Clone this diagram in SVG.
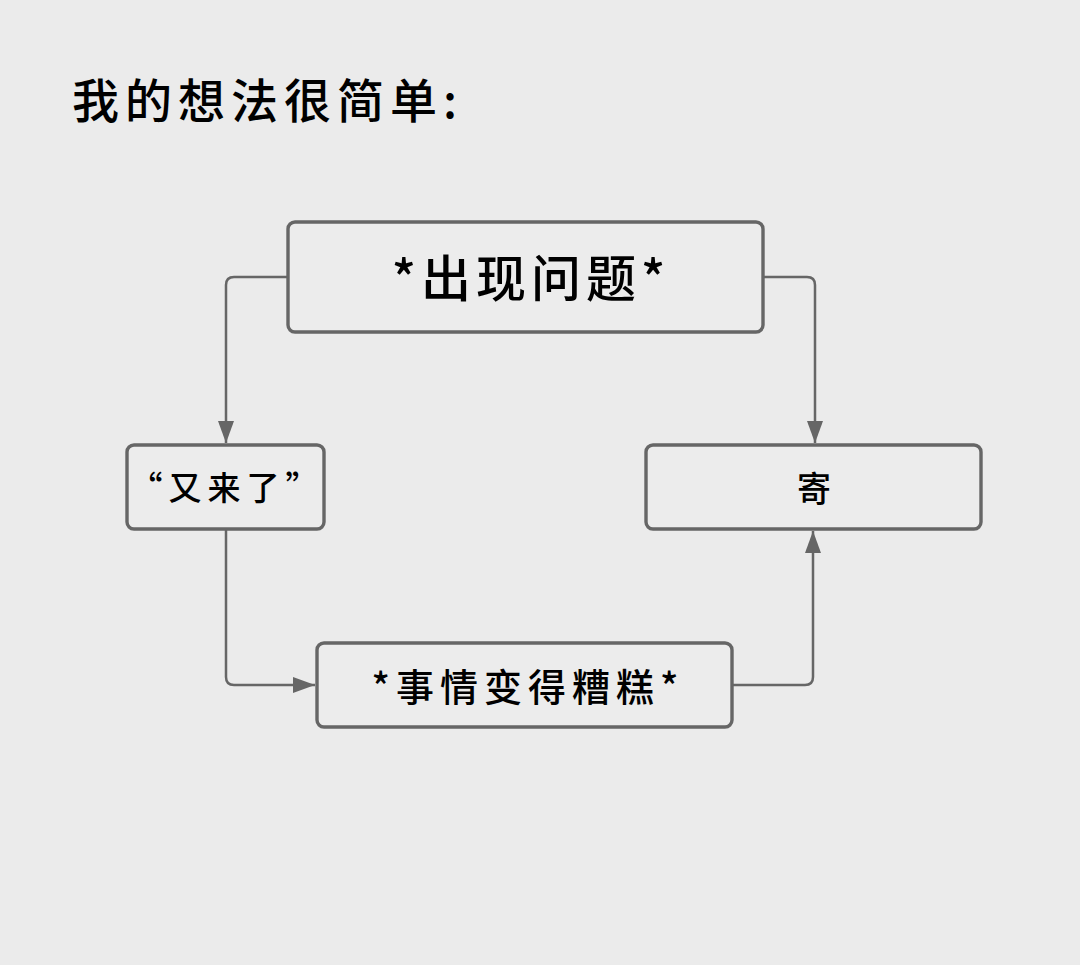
<svg xmlns="http://www.w3.org/2000/svg" width="1080" height="965" viewBox="0 0 1080 965">
<style>
.bg{fill:#ebebeb}
.box{fill:#ececec;stroke:#666;stroke-width:3.4}
.t{font-family:"Noto Sans CJK SC","Noto Sans",sans-serif;font-weight:500;fill:#000;text-anchor:middle;dominant-baseline:central}
.conn path{fill:none;stroke:#666;stroke-width:2.5}
</style>
<defs>
<marker id="ah" markerUnits="userSpaceOnUse" markerWidth="24" markerHeight="18" refX="22" refY="8" orient="auto">
<path d="M0,0 L22,8 L0,16 Z" fill="#666"/>
</marker>
</defs>
<rect class="bg" x="0" y="0" width="1080" height="965"/>
<text id="title" x="72" y="97" font-family="'Noto Sans CJK SC','Noto Sans',sans-serif" font-weight="500" font-size="47" letter-spacing="6" dominant-baseline="central" fill="#000">我的想法很简单:</text>
<g class="conn">
<path d="M288,277 H234 Q226,277 226,285 V443" marker-end="url(#ah)"/>
<path d="M763,277 H807 Q815,277 815,285 V443" marker-end="url(#ah)"/>
<path d="M226,530 V677 Q226,685 234,685 H315" marker-end="url(#ah)"/>
<path d="M732,685 H805 Q813,685 813,677 V531" marker-end="url(#ah)"/>
</g>
<g id="n1">
<rect class="box" x="288" y="222" width="475" height="110" rx="7"/>
<text class="t" x="531" y="275" font-size="50" letter-spacing="5">*出现问题*</text>
</g>
<g id="n2">
<rect class="box" x="127" y="445" width="197" height="84" rx="7"/>
<text class="t" x="227" y="486" font-size="33" letter-spacing="6">“又来了”</text>
</g>
<g id="n3">
<rect class="box" x="646" y="445" width="335" height="84" rx="7"/>
<text class="t" x="814" y="486" font-size="34">寄</text>
</g>
<g id="n4">
<rect class="box" x="317" y="643" width="415" height="84" rx="7"/>
<text class="t" x="528" y="684" font-size="38" letter-spacing="6">*事情变得糟糕*</text>
</g>
</svg>
